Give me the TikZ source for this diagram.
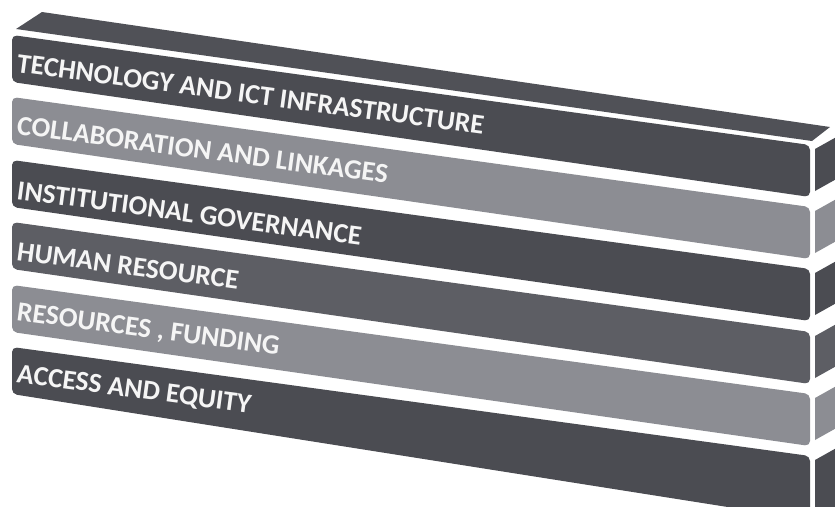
\documentclass[tikz,border=0pt]{standalone}
\usepackage{fontspec}
\setmainfont{Carlito}
\usepackage{tikz}
\usetikzlibrary{positioning}
\definecolor{bardark}{HTML}{4B4C52}
\definecolor{barmid}{HTML}{5D5E64}
\definecolor{barlight}{HTML}{8C8D93}
\definecolor{bartop}{HTML}{505157}
\tikzstyle{darkbar} = [fill=bardark, rounded corners=5pt]
\tikzstyle{midbar} = [fill=barmid, rounded corners=5pt]
\tikzstyle{lightbar} = [fill=barlight, rounded corners=5pt]
\tikzstyle{barlabel} = [anchor=base west, inner sep=0pt, rotate=-7.6, text=white!96!black, font=\fontsize{27.7}{30}\selectfont\bfseries]

\begin{document}
\begin{tikzpicture}[x=1pt,y=-1pt]
	\useasboundingbox (0,0) rectangle (835,506);
	\clip (0,0) rectangle (835,506);
	
	% top of the stack
	\fill[bartop] (16,29) -- (42,12) -- (830,127) -- (812,141) -- cycle;
	
	% front faces
	\path[darkbar] (12,35) -- (810,145) -- (810,197) -- (12,82) -- cycle;
	\path[lightbar] (12,97) -- (810,207) -- (810,259) -- (12,144) -- cycle;
	\path[darkbar] (12,160) -- (810,269) -- (810,321) -- (12,207) -- cycle;
	\path[midbar] (12,222) -- (810,332) -- (810,384) -- (12,269) -- cycle;
	\path[lightbar] (12,285) -- (810,394) -- (810,446) -- (12,332) -- cycle;
	\path[darkbar] (12,347) -- (810,456) -- (810,520) -- (12,394) -- cycle;
	
	% end faces
	\fill[bardark] (815,149) -- (840,135) -- (840,177) -- (815,191) -- cycle;
	\fill[barlight] (815,211) -- (840,197) -- (840,239) -- (815,253) -- cycle;
	\fill[bardark] (815,273) -- (840,259) -- (840,301) -- (815,315) -- cycle;
	\fill[barmid] (815,336) -- (840,322) -- (840,364) -- (815,378) -- cycle;
	\fill[barlight] (815,398) -- (840,384) -- (840,426) -- (815,440) -- cycle;
	\fill[bardark] (815,460) -- (840,446) -- (840,520) -- (815,520) -- cycle;
	
	\node[barlabel] (tech) at (16,72) {TECHNOLOGY AND ICT INFRASTRUCTURE};
	\node[barlabel] (collab) at (16,134) {COLLABORATION AND LINKAGES};
	\node[barlabel] (inst) at (16,199) {INSTITUTIONAL GOVERNANCE};
	\node[barlabel] (human) at (16,260) {HUMAN RESOURCE};
	\node[barlabel] (funding) at (16,320) {RESOURCES , FUNDING};
	\node[barlabel] (access) at (16,382) {ACCESS AND EQUITY};
\end{tikzpicture}
\end{document}
